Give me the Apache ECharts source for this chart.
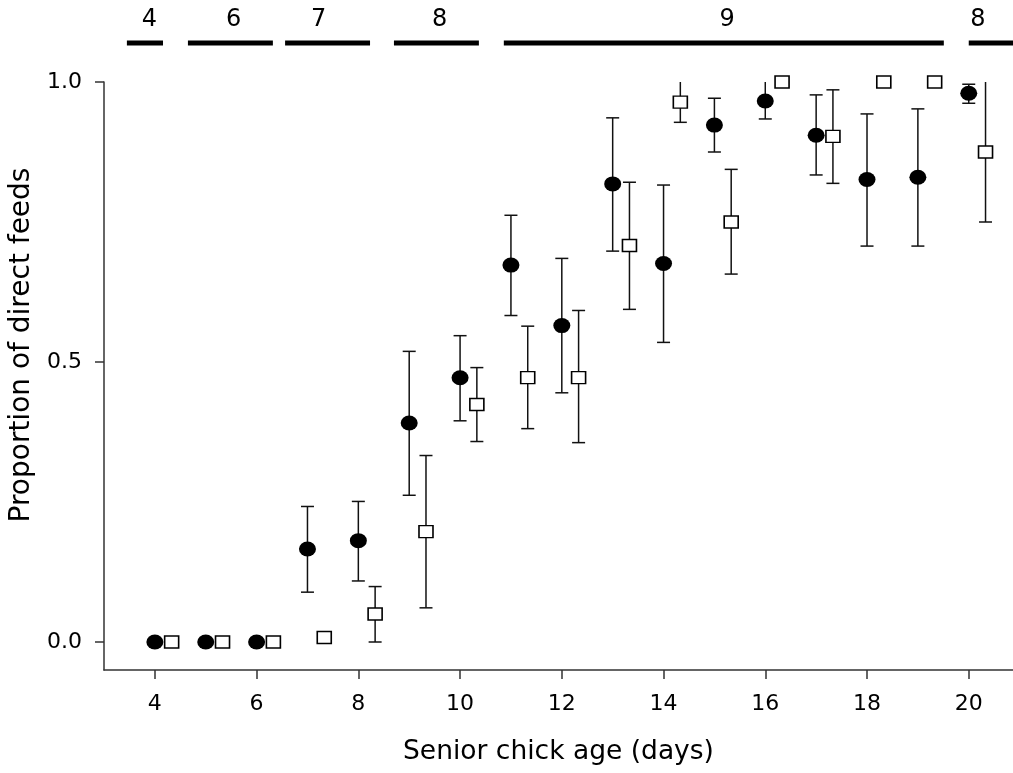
<!DOCTYPE html>
<html>
<head>
<meta charset="utf-8">
<script src="https://cdn.jsdelivr.net/npm/echarts@6/dist/echarts.min.js"></script>
<style>
html,body{margin:0;padding:0;background:#fff;}
#chart{width:1013px;height:773px;}
</style>
</head>
<body>
<div id="chart"></div>
<script>
// ---- Data ----
const seniorDays = [4, 5, 6, 7, 8, 9, 10, 11, 12, 13, 14, 15, 16, 17, 18, 19, 20];
const seniorMean = [0, 0, 0, 0.166, 0.181, 0.391, 0.472, 0.673, 0.565, 0.818, 0.676, 0.923, 0.966, 0.905, 0.826, 0.830, 0.980];
const seniorLow  = [null, null, null, 0.089, 0.109, 0.262, 0.395, 0.583, 0.445, 0.698, 0.535, 0.875, 0.934, 0.834, 0.707, 0.707, 0.962];
const seniorHigh = [null, null, null, 0.242, 0.251, 0.519, 0.547, 0.762, 0.685, 0.936, 0.816, 0.971, 1.0, 0.977, 0.943, 0.952, 0.996];

const juniorDays = [4.33, 5.33, 6.33, 7.33, 8.33, 9.33, 10.33, 11.33, 12.33, 13.33, 14.33, 15.33, 16.33, 17.33, 18.33, 19.33, 20.33];
const juniorMean = [0, 0, 0, 0.008, 0.05, 0.197, 0.424, 0.472, 0.472, 0.708, 0.964, 0.750, 1.0, 0.903, 1.0, 1.0, 0.875];
const juniorLow  = [null, null, null, null, 0, 0.061, 0.358, 0.381, 0.356, 0.594, 0.928, 0.657, null, 0.819, null, null, 0.750];
const juniorHigh = [null, null, null, null, 0.099, 0.333, 0.490, 0.564, 0.592, 0.821, 1.0, 0.844, null, 0.986, null, null, 1.0];

// sample sizes across age ranges (top bars)
const sampleSizes  = [4, 6, 7, 8, 9, 8];
const sampleStart  = [3.45, 4.65, 6.56, 8.70, 10.86, 20.0];
const sampleEnd    = [4.16, 6.32, 8.23, 10.37, 19.51, 20.9];
const sampleLabelX = [3.89, 5.55, 7.22, 9.60, 15.25, 20.18];

const xTicks = [4, 6, 8, 10, 12, 14, 16, 18, 20];
const yTicks = [0, 0.5, 1.0];

// ---- Build ----
const FONT = 'DejaVu Sans';
function pts(xs, ys) { return xs.map((x, i) => [x, ys[i]]); }
function errs(xs, lo, hi) {
  const out = [];
  xs.forEach((x, i) => { if (lo[i] !== null && hi[i] !== null) out.push([x, lo[i], hi[i]]); });
  return out;
}
const errData = errs(seniorDays, seniorLow, seniorHigh).concat(errs(juniorDays, juniorLow, juniorHigh));
const sampleData = sampleSizes.map((n, i) => [sampleStart[i], sampleEnd[i], n, sampleLabelX[i]]);

const chart = echarts.init(document.getElementById('chart'), null, {renderer: 'canvas'});
const option = {
  backgroundColor: '#ffffff',
  animation: false,
  grid: {left: 104, right: 0, top: 82, bottom: 103, containLabel: false},
  xAxis: {
    type: 'value', min: 3, max: 20.87,
    name: 'Senior chick age (days)', nameLocation: 'middle', nameGap: 69,
    nameTextStyle: {fontFamily: FONT, fontSize: 26.5, color: '#000'},
    axisLine: {show: true, onZero: false, lineStyle: {color: '#333', width: 1.5}},
    axisTick: {show: true, inside: false, length: 9, customValues: xTicks, lineStyle: {color: '#333', width: 1.5}},
    axisLabel: {customValues: xTicks, margin: 23, fontFamily: FONT, fontSize: 22, color: '#000'},
    splitLine: {show: false}
  },
  yAxis: {
    type: 'value', min: -0.05, max: 1.0,
    name: 'Proportion of direct feeds', nameLocation: 'middle', nameGap: 61, nameRotate: 90,
    nameTextStyle: {fontFamily: FONT, fontSize: 28, color: '#000', padding: [0, 0, 0, 62]},
    axisLine: {show: true, onZero: false, lineStyle: {color: '#333', width: 1.5}},
    axisTick: {show: true, inside: false, length: 9, customValues: yTicks, lineStyle: {color: '#333', width: 1.5}},
    axisLabel: {customValues: yTicks, margin: 22, fontFamily: FONT, fontSize: 22, color: '#000',
      formatter: v => Number(v).toFixed(1)},
    splitLine: {show: false}
  },
  series: [
    {
      type: 'custom', name: 'errors', clip: false, z: 2,
      data: errData,
      renderItem: function (params, api) {
        const x = api.value(0), lo = api.value(1), hi = api.value(2);
        const a = api.coord([x, lo]), b = api.coord([x, hi]);
        const half = 6.5;
        const st = {stroke: '#111', lineWidth: 1.5};
        const ch = [
          {type: 'line', shape: {x1: a[0], y1: a[1], x2: b[0], y2: b[1]}, style: st},
          {type: 'line', shape: {x1: a[0] - half, y1: a[1], x2: a[0] + half, y2: a[1]}, style: st}
        ];
        if (hi < 0.999) ch.push({type: 'line', shape: {x1: b[0] - half, y1: b[1], x2: b[0] + half, y2: b[1]}, style: st});
        return {type: 'group', children: ch};
      }
    },
    {
      type: 'scatter', name: 'Senior', clip: false, z: 3,
      symbol: 'path://M50,0 A50,50 0 1,1 50,100 A50,50 0 1,1 50,0 Z',
      symbolSize: [17, 15],
      itemStyle: {color: '#000', borderWidth: 0, opacity: 1},
      data: pts(seniorDays, seniorMean)
    },
    {
      type: 'scatter', name: 'Junior', clip: false, z: 4,
      symbol: 'rect', symbolSize: [14, 12],
      itemStyle: {color: '#fff', borderColor: '#000', borderWidth: 1.5, opacity: 1},
      data: pts(juniorDays, juniorMean)
    },
    {
      type: 'custom', name: 'samples', clip: false, z: 2,
      data: sampleData,
      renderItem: function (params, api) {
        const cs = params.coordSys;
        const x1 = api.coord([api.value(0), 0])[0];
        const x2 = api.coord([api.value(1), 0])[0];
        const lx = api.coord([api.value(3), 0])[0];
        const yBar = cs.y - 39, yLab = cs.y - 62;
        return {type: 'group', children: [
          {type: 'line', shape: {x1: x1, y1: yBar, x2: x2, y2: yBar}, style: {stroke: '#000', lineWidth: 5}},
          {type: 'text', x: lx, y: yLab, style: {text: String(api.value(2)), fontFamily: FONT, fontSize: 24,
            fill: '#000', align: 'center', verticalAlign: 'middle'}}
        ]};
      }
    }
  ]
};
chart.setOption(option);
</script>
</body>
</html>
